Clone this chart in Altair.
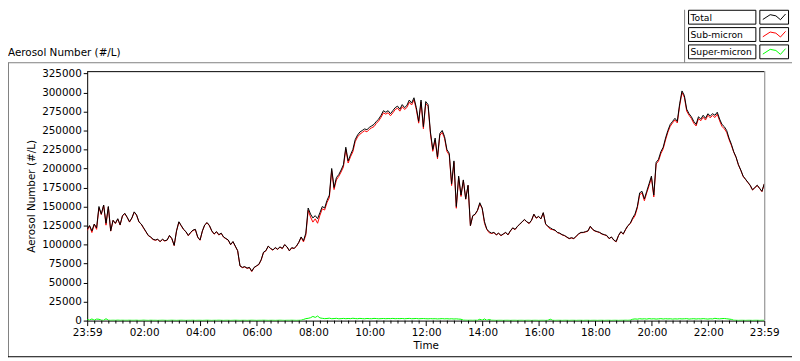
import altair as alt
import pandas as pd

# ---------------- data (5-minute samples starting at 23:59 of the previous day) ----------------
START_MIN = -1
STEP_MIN = 5

TOTAL = [
    120000, 125000, 118000, 127000, 122000, 150000, 140000, 152000, 128000, 150000,
    118000, 132000, 128000, 134000, 126000, 138000, 141000, 136000, 130000, 135000,
    143000, 139000, 130000, 127000, 122000, 117000, 112000, 110000, 107000, 106000,
    107000, 104000, 107000, 105000, 106000, 112000, 108000, 99000, 118000, 130000,
    125000, 120000, 117000, 112000, 116000, 119000, 120000, 110000, 106000, 118000,
    126000, 129000, 125000, 118000, 114000, 117000, 113000, 115000, 110000, 108000,
    106000, 100000, 104000, 98000, 92000, 72000, 70000, 71000, 69000, 70000,
    65000, 70000, 72000, 74000, 80000, 90000, 92000, 98000, 95000, 93000,
    96000, 94000, 97000, 95000, 100000, 97000, 92000, 96000, 95000, 98000,
    103000, 110000, 105000, 115000, 148000, 140000, 135000, 138000, 134000, 142000,
    150000, 148000, 158000, 165000, 200000, 175000, 188000, 192000, 198000, 205000,
    228000, 210000, 218000, 225000, 238000, 244000, 248000, 250000, 252000, 251000,
    254000, 256000, 258000, 262000, 265000, 270000, 276000, 274000, 276000, 272000,
    276000, 280000, 282000, 278000, 284000, 280000, 283000, 290000, 286000, 293000,
    280000, 262000, 290000, 255000, 288000, 284000, 248000, 225000, 240000, 215000,
    246000, 250000, 242000, 225000, 220000, 180000, 210000, 150000, 190000, 165000,
    185000, 160000, 178000, 125000, 138000, 140000, 145000, 155000, 148000, 130000,
    120000, 117000, 115000, 116000, 113000, 115000, 112000, 114000, 116000, 113000,
    118000, 122000, 120000, 124000, 127000, 130000, 133000, 130000, 128000, 132000,
    140000, 135000, 137000, 134000, 142000, 127000, 124000, 122000, 120000, 119000,
    116000, 115000, 113000, 112000, 110000, 108000, 109000, 108000, 111000, 114000,
    116000, 116000, 117000, 118000, 124000, 120000, 118000, 117000, 116000, 114000,
    113000, 112000, 108000, 110000, 106000, 104000, 112000, 117000, 114000, 120000,
    125000, 128000, 135000, 140000, 150000, 168000, 170000, 160000, 170000, 180000,
    190000, 165000, 208000, 212000, 222000, 228000, 240000, 250000, 258000, 262000,
    266000, 262000, 285000, 302000, 296000, 278000, 272000, 268000, 262000, 258000,
    268000, 265000, 270000, 266000, 272000, 269000, 272000, 270000, 274000, 265000,
    258000, 255000, 250000, 240000, 232000, 222000, 215000, 205000, 198000, 190000,
    186000, 182000, 178000, 172000, 175000, 178000, 174000, 170000, 180000,
]

SUPER = [
    1500, 600, 2200, 500, 2000, 1800, 600, 400, 2500, 500,
    400, 500, 400, 600, 400, 500, 400, 400, 500, 400,
    400, 500, 300, 400, 600, 400, 300, 500, 400, 400,
    300, 400, 500, 400, 300, 400, 500, 400, 300, 400,
    500, 400, 300, 400, 400, 500, 300, 400, 400, 300,
    400, 500, 400, 300, 400, 400, 500, 400, 300, 400,
    400, 300, 400, 500, 400, 300, 400, 400, 300, 400,
    500, 400, 300, 400, 400, 500, 400, 300, 400, 400,
    300, 400, 500, 400, 300, 400, 400, 500, 400, 300,
    400, 500, 1500, 2600, 3000, 3800, 5500, 4200, 6000, 3500,
    3000, 2600, 2800, 3200, 2500, 2700, 3000, 2400, 2600, 2900,
    2500, 2800, 2600, 3100, 2700, 2500, 2900, 2600, 2400, 2800,
    2600, 2500, 2900, 2700, 2400, 2600, 2800, 2500, 2700, 2600,
    2900, 2500, 2700, 2600, 2800, 2400, 2700, 2900, 2500, 2600,
    2800, 2400, 2600, 2700, 2500, 2300, 2600, 2400, 2500, 2200,
    2400, 2600, 2300, 2500, 2200, 2400, 2100, 2300, 2000, 1800,
    600, 500, 400, 500, 400, 500, 400, 1800, 500, 2200,
    400, 1500, 500, 400, 300, 400, 400, 300, 400, 400,
    300, 400, 400, 300, 400, 400, 300, 400, 400, 300,
    400, 400, 300, 400, 400, 300, 400, 1800, 400, 300,
    400, 400, 300, 400, 400, 300, 400, 400, 300, 400,
    400, 300, 400, 400, 300, 400, 400, 300, 400, 400,
    300, 400, 400, 300, 400, 400, 300, 400, 400, 500,
    400, 600, 1800, 2200, 1900, 2500, 2100, 2400, 2000, 2600,
    2200, 2400, 2000, 2300, 2600, 2100, 2500, 2200, 2400, 2000,
    2300, 2100, 2500, 2200, 2400, 2600, 2000, 2300, 2500, 2100,
    2400, 2200, 2600, 2300, 2000, 2400, 2200, 3000, 2500, 2300,
    2600, 2800, 2400, 2000, 1600, 500, 400, 300, 400, 400,
    300, 400, 400, 300, 400, 400, 300, 400, 400,
]

# sub-micron = total minus super-micron
SUB = [t - s for t, s in zip(TOTAL, SUPER)]

SERIES = ["Total", "Sub-micron", "Super-micron"]
COLORS = ["#000000", "#ff0000", "#00ff00"]

Y_TICKS = list(range(0, 325001, 25000))
X_MAJOR = [-1, 120, 240, 360, 480, 600, 720, 840, 960, 1080, 1200, 1320, 1439]
X_MINOR = [m for m in range(15, 1439, 15) if m % 120 != 0]

times = [START_MIN + STEP_MIN * i for i in range(len(TOTAL))]
df = pd.DataFrame({
    "t": times * 3,
    "v": TOTAL + SUB + SUPER,
    "s": [SERIES[0]] * len(TOTAL) + [SERIES[1]] * len(SUB) + [SERIES[2]] * len(SUPER),
})
minor_df = pd.DataFrame({"t": X_MINOR})
one = pd.DataFrame({"k": [0]})

FONT = "DejaVu Sans"
FS = 10.5
W, H = 684, 252

xs = alt.Scale(domain=[-1, 1439], nice=False, zero=False)
ys = alt.Scale(domain=[0, 328000], nice=False, zero=True)

xaxis = alt.Axis(
    values=X_MAJOR, title="Time", grid=False, tickSize=5, labelPadding=2,
    labelExpr="datum.value < 0 || datum.value > 1430 ? '23:59' : (floor(datum.value/60) < 10 ? '0' : '') + floor(datum.value/60) + ':00'",
    labelFlush=False, labelOverlap=False, titlePadding=3,
    labelFont=FONT, labelFontSize=FS, titleFont=FONT, titleFontSize=FS, titleFontWeight="normal",
    domainColor="black", tickColor="black", labelColor="black", titleColor="black",
)
yaxis = alt.Axis(
    values=Y_TICKS, format="d", title="Aerosol Number (#/L)", grid=False,
    tickSize=4, labelPadding=2, titlePadding=5, labelOverlap=False,
    labelFont=FONT, labelFontSize=FS, titleFont=FONT, titleFontSize=FS, titleFontWeight="normal",
    domainColor="black", tickColor="black", labelColor="black", titleColor="black",
)

X = alt.X("t:Q", scale=xs, axis=xaxis)
Y = alt.Y("v:Q", scale=ys, axis=yaxis)

layers = []
for name, color in [(SERIES[1], COLORS[1]), (SERIES[0], COLORS[0]), (SERIES[2], COLORS[2])]:
    layers.append(
        alt.Chart(df[df["s"] == name]).mark_line(color=color, strokeWidth=1, clip=True)
        .encode(x=X, y=Y)
    )

# minor x ticks
layers.append(
    alt.Chart(minor_df).mark_rule(color="black", strokeWidth=1)
    .encode(x=X, y=alt.value(H), y2=alt.value(H + 3))
)

# plot frame: top (black) and right (gray)
layers.append(alt.Chart(one).mark_rule(color="black", strokeWidth=1)
              .encode(x=alt.value(0), x2=alt.value(W), y=alt.value(0.5)))
layers.append(alt.Chart(one).mark_rule(color="#808080", strokeWidth=1)
              .encode(x=alt.value(W + 0.5), y=alt.value(0), y2=alt.value(H)))

# outer frame
layers.append(alt.Chart(one).mark_rule(color="#808080", strokeWidth=1)
              .encode(x=alt.value(-80), x2=alt.value(712), y=alt.value(-8.5)))
layers.append(alt.Chart(one).mark_rule(color="#808080", strokeWidth=1)
              .encode(x=alt.value(-79.5), y=alt.value(-8.5), y2=alt.value(289)))
layers.append(alt.Chart(one).mark_rule(color="black", strokeWidth=1)
              .encode(x=alt.value(-80), x2=alt.value(712), y=alt.value(288.5)))
layers.append(alt.Chart(one).mark_rule(color="#808080", strokeWidth=1)
              .encode(x=alt.value(603.5), y=alt.value(-62), y2=alt.value(-8.5)))

# top-left label
layers.append(alt.Chart(one).mark_text(align="left", baseline="middle", font=FONT, fontSize=FS, color="black")
              .encode(x=alt.value(-80), y=alt.value(-18), text=alt.value("Aerosol Number (#/L)")))

# legend
ZIG = "M-1,0.2L-0.35,-0.22L0.15,-0.12L0.55,0.22L1,-0.28"
for i, (name, color) in enumerate(zip(SERIES, COLORS)):
    top = -61.5 + i * 17.5
    bot = top + 14
    mid = (top + bot) / 2
    layers.append(alt.Chart(one).mark_rect(fill="white", stroke="black", strokeWidth=1)
                  .encode(x=alt.value(607.5), x2=alt.value(675.5), y=alt.value(top), y2=alt.value(bot)))
    layers.append(alt.Chart(one).mark_rect(fill="white", stroke="black", strokeWidth=1)
                  .encode(x=alt.value(679.5), x2=alt.value(708.5), y=alt.value(top), y2=alt.value(bot)))
    layers.append(alt.Chart(one).mark_text(align="left", baseline="middle", font=FONT, fontSize=9.3, color="black")
                  .encode(x=alt.value(609.5), y=alt.value(mid + 0.5), text=alt.value(name)))
    layers.append(alt.Chart(one).mark_point(shape=ZIG, filled=False, size=529, strokeWidth=1, color=color, opacity=1)
                  .encode(x=alt.value(694), y=alt.value(mid)))

chart = alt.layer(*layers).properties(
    width=W, height=H,
    background="white",
    autosize=alt.AutoSizeParams(type="none"),
    padding={"left": 80, "top": 62, "right": 28, "bottom": 38},
).configure_view(strokeWidth=0)

chart.save("out.html", embed_options={"renderer": "svg", "actions": False})
